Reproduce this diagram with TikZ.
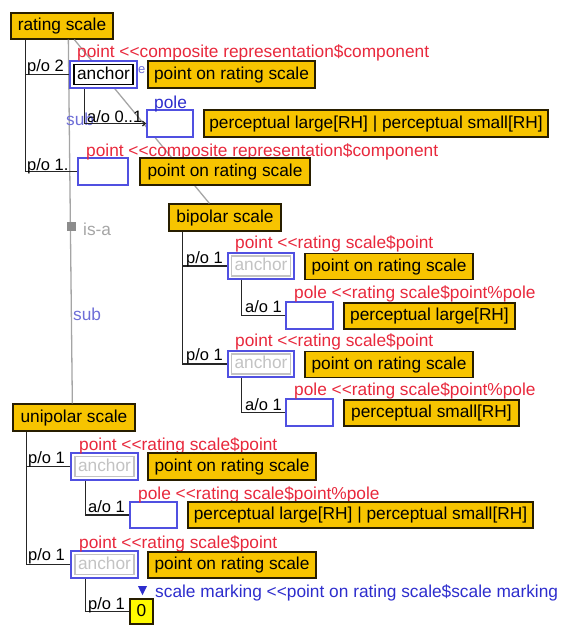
\documentclass[tikz,border=0pt]{standalone}
\usepackage{fontspec}
\setmainfont{Liberation Sans}
\usetikzlibrary{arrows.meta}
\definecolor{gold}{RGB}{247,196,0}
\definecolor{golddark}{RGB}{40,30,0}
\definecolor{rolered}{RGB}{232,40,60}
\definecolor{roleblue}{RGB}{45,45,205}
\definecolor{boxblue}{RGB}{80,80,225}
\definecolor{subblue}{RGB}{110,110,215}
\definecolor{isagrey}{RGB}{165,165,165}
\definecolor{anchorgrey}{RGB}{195,195,195}
\definecolor{markyellow}{RGB}{255,250,0}
\newcommand\dlt{<\kern0pt<}
\begin{document}
\begin{tikzpicture}[x=1pt,y=-1pt,
  font=\fontsize{17.3}{20}\selectfont,
  ybox/.style={draw=golddark, fill=gold, line width=1.3pt, inner sep=0pt,
    text height=12.5pt, text depth=3.5pt},
  bbox/.style={draw=boxblue, fill=white, line width=1.4pt, inner sep=0pt},
  ianchor/.style={draw=#1, text=#1, line width=1.2pt, inner sep=0pt,
    minimum width=59, minimum height=20, text height=12pt, text depth=3pt},
  tree/.style={draw=black!85, line width=1.2pt},
  isa/.style={draw=isagrey, line width=1.3pt},
  rolelab/.style={text=rolered, anchor=base west, inner sep=0pt},
  bluelab/.style={text=roleblue, anchor=base west, inner sep=0pt},
  sublab/.style={text=subblue, anchor=base west, inner sep=0pt},
  cardlab/.style={text=black, anchor=base west, inner sep=0pt, font=\fontsize{16.5}{18}\selectfont},
]
\useasboundingbox (0,0) rectangle (561,625);

% ---------- concept boxes ----------
\node[ybox, minimum width=102, minimum height=26] (rs) at (62,26) {rating scale};
\node[ybox, minimum width=112, minimum height=27] (bp) at (225,217.5) {bipolar scale};
\node[ybox, minimum width=122, minimum height=27] (up) at (74,417.5) {unipolar scale};

% ---------- specialisation links ----------
\draw[isa] ([xshift=58]rs.south west) coordinate (isatop) -- ([xshift=60]up.north west) coordinate (isabot);
\draw[isa] ([xshift=64]rs.south west) -- ([xshift=41]bp.north west);
\node[fill=black!45, inner sep=0pt, minimum size=9] (isamark) at (71.5,226.5) {};
\node[text=isagrey, anchor=base west, inner sep=0pt] (isatext) at (83,235) {is-a};
\node[sublab] (sub2) at (73,320) {sub};

% ---------- rating scale parts ----------
\node[bbox, minimum width=67, minimum height=27] (anc1) at (103.5,74.5) {};
\node[ianchor=black] (anc1i) at (anc1.center) {anchor};
\node[sublab, font=\fontsize{13}{14}\selectfont] (e1) at (138,73) {e};
\node[rolelab] (r1) at (77,57) {point \dlt composite representation\$component};
\node[ybox, minimum width=167, minimum height=27] (y1) at (231.5,74.5) {point on rating scale};

\node[sublab] (sub1) at (66,125) {sub};
\node[bbox, minimum width=46, minimum height=27] (pole1) at (170,123.5) {};
\node[bluelab] (pl1) at (154,108) {pole};
\node[ybox, minimum width=344, minimum height=27] (y2) at (376,123.5) {perceptual large[RH] | perceptual small[RH]};

\node[bbox, minimum width=50, minimum height=27] (b2) at (103,171.5) {};
\node[rolelab] (r2) at (86,156) {point \dlt composite representation\$component};
\node[ybox, minimum width=170, minimum height=27] (y3) at (225,171.5) {point on rating scale};

\draw[tree] ([xshift=15]rs.south west) |- (anc1.west);
\draw[tree] ([xshift=15]rs.south west) |- (b2.west);
\node[cardlab] (c1) at (27,71) {p/o 2};
\node[cardlab] (c2) at (27,170) {p/o 1.};
\draw[tree, -{Straight Barb[length=3pt,width=5pt]}] ([xshift=15]anc1.south west) |- (pole1.west);
\node[cardlab] (c3) at (87,122) {a/o 0..1};

% ---------- bipolar scale parts ----------
\node[bbox, minimum width=66, minimum height=26] (anc2) at (261,266) {};
\node[ianchor=anchorgrey] (anc2i) at (anc2.center) {anchor};
\node[rolelab] (r3) at (235,248) {point \dlt rating scale\$point};
\node[ybox, minimum width=168, minimum height=26] (y4) at (389,266.5) {point on rating scale};
\node[bbox, minimum width=47, minimum height=27] (pole2) at (309.5,315.5) {};
\node[rolelab] (r4) at (294,298) {pole \dlt rating scale\$point\%pole};
\node[ybox, minimum width=171, minimum height=26] (y5) at (429.5,316) {perceptual large[RH]};

\node[bbox, minimum width=66, minimum height=26] (anc3) at (261,364) {};
\node[ianchor=anchorgrey] (anc3i) at (anc3.center) {anchor};
\node[rolelab] (r5) at (235,346) {point \dlt rating scale\$point};
\node[ybox, minimum width=168, minimum height=26] (y6) at (389,364.5) {point on rating scale};
\node[bbox, minimum width=47, minimum height=27] (pole3) at (309.5,412.5) {};
\node[rolelab] (r6) at (294,395) {pole \dlt rating scale\$point\%pole};
\node[ybox, minimum width=175, minimum height=26] (y7) at (431.5,413) {perceptual small[RH]};

\draw[tree] ([xshift=14]bp.south west) |- (anc2.west);
\draw[tree] ([xshift=14]bp.south west) |- (anc3.west);
\node[cardlab] (c4) at (186,263) {p/o 1};
\node[cardlab] (c5) at (186,360) {p/o 1};
\draw[tree] ([xshift=14]anc2.south west) |- (pole2.west);
\draw[tree] ([xshift=14]anc3.south west) |- (pole3.west);
\node[cardlab] (c6) at (245,312) {a/o 1};
\node[cardlab] (c7) at (245,410) {a/o 1};

% ---------- unipolar scale parts ----------
\node[bbox, minimum width=67, minimum height=27] (anc4) at (104.5,466.5) {};
\node[ianchor=anchorgrey] (anc4i) at (anc4.center) {anchor};
\node[rolelab] (r7) at (79,450) {point \dlt rating scale\$point};
\node[ybox, minimum width=168, minimum height=27] (y8) at (232,466.5) {point on rating scale};
\node[bbox, minimum width=47, minimum height=26] (pole4) at (153.5,515) {};
\node[rolelab] (r8) at (138,499) {pole \dlt rating scale\$point\%pole};
\node[ybox, minimum width=345, minimum height=26] (y9) at (360.5,515) {perceptual large[RH] | perceptual small[RH]};

\node[bbox, minimum width=67, minimum height=27] (anc5) at (104.5,564.5) {};
\node[ianchor=anchorgrey] (anc5i) at (anc5.center) {anchor};
\node[rolelab] (r9) at (79,548) {point \dlt rating scale\$point};
\node[ybox, minimum width=168, minimum height=26] (y10) at (232,565) {point on rating scale};

\node[ybox, fill=markyellow, minimum width=23, minimum height=25] (zero) at (141.5,611.5) {0};
\fill[roleblue] (138,586) -- (147,586) -- (142.5,595) -- cycle;
\node[bluelab] (sm) at (155,597) {scale marking \dlt point on rating scale\$scale marking};

\draw[tree] ([xshift=14]up.south west) |- (anc4.west);
\draw[tree] ([xshift=14]up.south west) |- (anc5.west);
\node[cardlab] (c8) at (28,463) {p/o 1};
\node[cardlab] (c9) at (28,560) {p/o 1};
\draw[tree] ([xshift=15]anc4.south west) |- (pole4.west);
\draw[tree] ([xshift=15]anc5.south west) |- (zero.west);
\node[cardlab] (c10) at (88,512) {a/o 1};
\node[cardlab] (c11) at (88,609) {p/o 1};
\end{tikzpicture}
\end{document}
